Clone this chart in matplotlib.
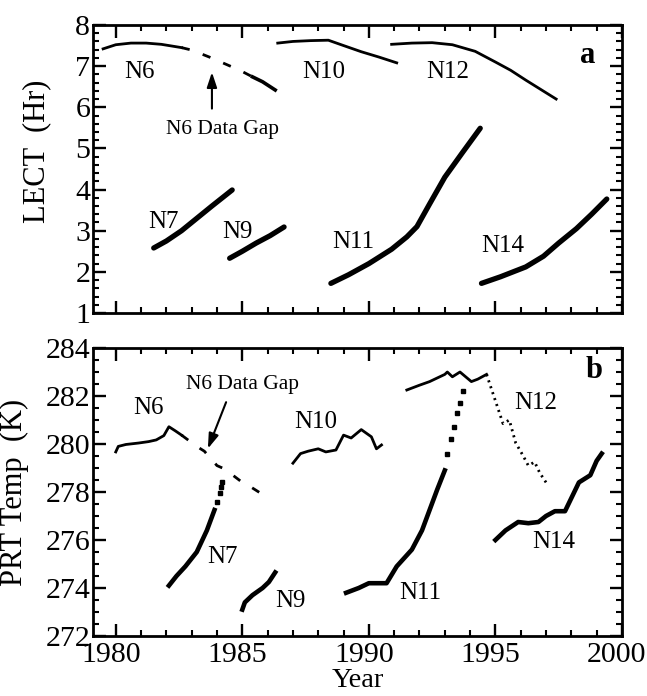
import numpy as np
import matplotlib
matplotlib.use("Agg")
import matplotlib.pyplot as plt
import matplotlib.transforms as mtransforms
from matplotlib.ticker import MultipleLocator

plt.rcParams['font.family'] = 'Liberation Serif'
plt.rcParams['lines.scale_dashes'] = False

# ---------------- panel a: LECT (Hr)
n6a_year = [1979.5, 1980.0, 1980.6, 1981.2, 1981.8, 1982.3, 1982.6]
n6a_val = [7.42, 7.52, 7.56, 7.56, 7.53, 7.48, 7.45]
n6a_gap_year = [1982.6, 1983.0, 1983.7, 1984.3, 1984.9, 1985.4]
n6a_gap_val = [7.45, 7.39, 7.22, 7.06, 6.90, 6.74]
n6a_end_year = [1985.4, 1985.8, 1986.3]
n6a_end_val = [6.74, 6.62, 6.42]

n7a_year = [1981.5, 1982.0, 1982.6, 1983.2, 1983.8, 1984.6]
n7a_val = [2.58, 2.75, 3.0, 3.3, 3.6, 3.99]
n9a_year = [1984.5, 1985.0, 1985.55, 1986.1, 1986.65]
n9a_val = [2.33, 2.5, 2.7, 2.88, 3.09]
n10a_year = [1986.4, 1987.0, 1987.7, 1988.4, 1989.0, 1989.7, 1990.4, 1991.1]
n10a_val = [7.56, 7.6, 7.62, 7.63, 7.5, 7.35, 7.22, 7.08]
n11a_year = [1988.5, 1989.2, 1990.0, 1990.9, 1991.5, 1991.9, 1992.4, 1993.0, 1993.7, 1994.4]
n11a_val = [1.72, 1.93, 2.2, 2.55, 2.85, 3.1, 3.65, 4.3, 4.9, 5.49]
n12a_year = [1990.9, 1991.7, 1992.5, 1993.3, 1994.2, 1995.0, 1995.6, 1996.2, 1996.8, 1997.4]
n12a_val = [7.53, 7.56, 7.57, 7.52, 7.36, 7.1, 6.9, 6.66, 6.43, 6.2]
n14a_year = [1994.45, 1995.2, 1996.2, 1996.9, 1997.5, 1998.2, 1998.8, 1999.4]
n14a_val = [1.72, 1.88, 2.12, 2.38, 2.7, 3.05, 3.4, 3.77]

# ---------------- panel b: PRT Temp (K)
n6b_year = [1980.0, 1980.1, 1980.4, 1980.9, 1981.3, 1981.6, 1981.9, 1982.1, 1982.35, 1982.6]
n6b_val = [279.67, 279.9, 279.98, 280.04, 280.1, 280.17, 280.35, 280.72, 280.55, 280.37]
n6b_gap_year = [1982.6, 1983.2, 1983.5, 1984.0, 1984.3, 1985.0, 1985.2, 1985.8, 1986.0]
n6b_gap_val = [280.37, 279.9, 279.7, 279.1, 278.96, 278.4, 278.3, 277.9, 277.7]
n7b_year = [1982.1, 1982.4, 1982.75, 1983.2, 1983.6, 1983.9]
n7b_val = [274.1, 274.5, 274.9, 275.5, 276.4, 277.25]
n7b_dots_year = [1984.0, 1984.1, 1984.15, 1984.2]
n7b_dots_val = [277.6, 277.95, 278.2, 278.4]
n9b_year = [1985.0, 1985.1, 1985.4, 1985.8, 1986.05, 1986.3]
n9b_val = [273.1, 273.4, 273.7, 274.0, 274.25, 274.65]
n10b_year = [1987.0, 1987.3, 1987.6, 1988.0, 1988.3, 1988.7, 1989.0, 1989.3, 1989.7, 1990.1, 1990.3, 1990.5]
n10b_val = [279.2, 279.6, 279.7, 279.8, 279.67, 279.75, 280.37, 280.25, 280.6, 280.3, 279.8, 279.96]
n11b_year = [1989.1, 1989.6, 1990.0, 1990.7, 1991.1, 1991.7, 1992.1, 1992.4, 1992.7, 1993.0]
n11b_val = [273.8, 274.0, 274.2, 274.2, 274.9, 275.6, 276.4, 277.25, 278.1, 278.9]
n11b_dots_year = [1993.1, 1993.25, 1993.35, 1993.5, 1993.6, 1993.7]
n11b_dots_val = [279.6, 280.2, 280.7, 281.3, 281.7, 282.2]
n12b_year = [1991.5, 1992.0, 1992.4, 1993.0, 1993.1, 1993.3, 1993.6, 1994.05, 1994.3, 1994.65]
n12b_val = [282.25, 282.45, 282.6, 282.9, 283.0, 282.8, 283.0, 282.6, 282.7, 282.9]
n12b_dot_year = [1994.65, 1995.0, 1995.3, 1995.55, 1995.8, 1996.1, 1996.3, 1996.55, 1996.75, 1997.0]
n12b_dot_val = [282.9, 281.8, 280.85, 281.0, 280.05, 279.5, 279.1, 279.25, 278.8, 278.4]
n14b_year = [1995.0, 1995.4, 1995.9, 1996.3, 1996.7, 1997.0, 1997.35, 1997.75, 1998.3, 1998.75, 1999.0, 1999.2]
n14b_val = [276.0, 276.4, 276.75, 276.7, 276.75, 277.0, 277.2, 277.2, 278.4, 278.7, 279.3, 279.6]

fig = plt.figure(figsize=(6.47, 6.96), dpi=100)
axa = fig.add_axes([0.1437, 0.5503, 0.8176, 0.4138])
axb = fig.add_axes([0.1437, 0.0862, 0.8176, 0.4138])

thick = 3.8
thin = 2.0

# panel a lines
axa.plot(n6a_year, n6a_val, color='black', lw=thin)
axa.plot(n6a_gap_year, n6a_gap_val, color='black', lw=thin, dashes=(6, 10))
axa.plot(n6a_end_year, n6a_end_val, color='black', lw=2.6)
axa.plot(n7a_year, n7a_val, color='black', lw=thick, solid_capstyle='round')
axa.plot(n9a_year, n9a_val, color='black', lw=thick, solid_capstyle='round')
axa.plot(n10a_year, n10a_val, color='black', lw=thin)
axa.plot(n11a_year, n11a_val, color='black', lw=thick, solid_capstyle='round')
axa.plot(n12a_year, n12a_val, color='black', lw=thin)
axa.plot(n14a_year, n14a_val, color='black', lw=thick, solid_capstyle='round')

lab = 18
axa.text(1980.95, 6.86, 'N6', fontsize=lab, ha='center', va='center')
axa.text(1988.2, 6.86, 'N10', fontsize=lab, ha='center', va='center')
axa.text(1993.1, 6.86, 'N12', fontsize=lab, ha='center', va='center')
axa.text(1981.9, 3.2, 'N7', fontsize=lab, ha='center', va='center')
axa.text(1984.8, 2.97, 'N9', fontsize=lab, ha='center', va='center')
axa.text(1989.4, 2.73, 'N11', fontsize=lab, ha='center', va='center')
axa.text(1995.3, 2.63, 'N14', fontsize=lab, ha='center', va='center')
axa.text(1984.2, 5.45, 'N6 Data Gap', fontsize=15.5, ha='center', va='center')
axa.annotate('', xy=(1983.8, 6.92), xytext=(1983.8, 5.9),
             arrowprops=dict(arrowstyle='-|>,head_length=0.9,head_width=0.3',
                             color='black', lw=1.5))
axa.text(1998.65, 7.27, 'a', fontsize=22, fontweight='bold', ha='center', va='center')

# panel b lines
axb.plot(n6b_year, n6b_val, color='black', lw=thin)
axb.plot(n6b_gap_year, n6b_gap_val, color='black', lw=thin, dashes=(6, 10))
axb.plot(n7b_year, n7b_val, color='black', lw=3.3)
axb.plot(n7b_dots_year, n7b_dots_val, 's', color='black', ms=3.5)
axb.plot(n9b_year, n9b_val, color='black', lw=3.3)
axb.plot(n10b_year, n10b_val, color='black', lw=thin)
axb.plot(n11b_year, n11b_val, color='black', lw=3.3)
axb.plot(n11b_dots_year, n11b_dots_val, 's', color='black', ms=3.5)
axb.plot(n12b_year, n12b_val, color='black', lw=thin)
axb.plot(n12b_dot_year, n12b_dot_val, color='black', lw=2.0, dashes=(1.5, 3))
axb.plot(n14b_year, n14b_val, color='black', lw=3.3)

axb.text(1981.3, 281.5, 'N6', fontsize=lab, ha='center', va='center')
axb.text(1987.9, 280.9, 'N10', fontsize=lab, ha='center', va='center')
axb.text(1996.6, 281.7, 'N12', fontsize=lab, ha='center', va='center')
axb.text(1984.2, 275.3, 'N7', fontsize=lab, ha='center', va='center')
axb.text(1986.9, 273.45, 'N9', fontsize=lab, ha='center', va='center')
axb.text(1992.05, 273.8, 'N11', fontsize=lab, ha='center', va='center')
axb.text(1997.3, 275.9, 'N14', fontsize=lab, ha='center', va='center')
axb.text(1985.0, 282.5, 'N6 Data Gap', fontsize=15.5, ha='center', va='center')
axb.annotate('', xy=(1983.6, 279.7), xytext=(1984.4, 281.85),
             arrowprops=dict(arrowstyle='-|>,head_length=0.9,head_width=0.3',
                             color='black', lw=1.5))
axb.text(1998.9, 283.05, 'b', fontsize=22, fontweight='bold', ha='center', va='center')

# axes styling
for ax in (axa, axb):
    ax.set_xlim(1979.1, 2000)
    ax.xaxis.set_major_locator(MultipleLocator(5))
    ax.xaxis.set_minor_locator(MultipleLocator(1))
    ax.tick_params(which='both', direction='in', top=True, right=True,
                   labelsize=21.5, pad=2)
    ax.tick_params(which='major', length=9, width=1.7)
    ax.tick_params(which='minor', length=4.5, width=1.5)
    for s in ax.spines.values():
        s.set_linewidth(2.0)

axa.set_ylim(1, 8)
axa.yaxis.set_major_locator(MultipleLocator(1))
axa.yaxis.set_minor_locator(MultipleLocator(0.2))
axa.tick_params(axis='x', labelbottom=False)
axa.set_ylabel('LECT  (Hr)', fontsize=22)
axa.yaxis.set_label_coords(-0.079, 0.56)

axb.set_ylim(272, 284)
axb.yaxis.set_major_locator(MultipleLocator(2))
axb.yaxis.set_minor_locator(MultipleLocator(0.5))
axb.tick_params(axis='x', pad=4)
axb.set_ylabel('PRT Temp  (K)', fontsize=22)
axb.yaxis.set_label_coords(-0.121, 0.5)
axb.set_xlabel('Year', fontsize=20.5, labelpad=0)

# year labels sit a little left of their ticks in the original
shift = mtransforms.ScaledTranslation(-0.05, 0, fig.dpi_scale_trans)
for t in axb.get_xticklabels():
    t.set_transform(t.get_transform() + shift)

fig.savefig('out.png', dpi=100)
